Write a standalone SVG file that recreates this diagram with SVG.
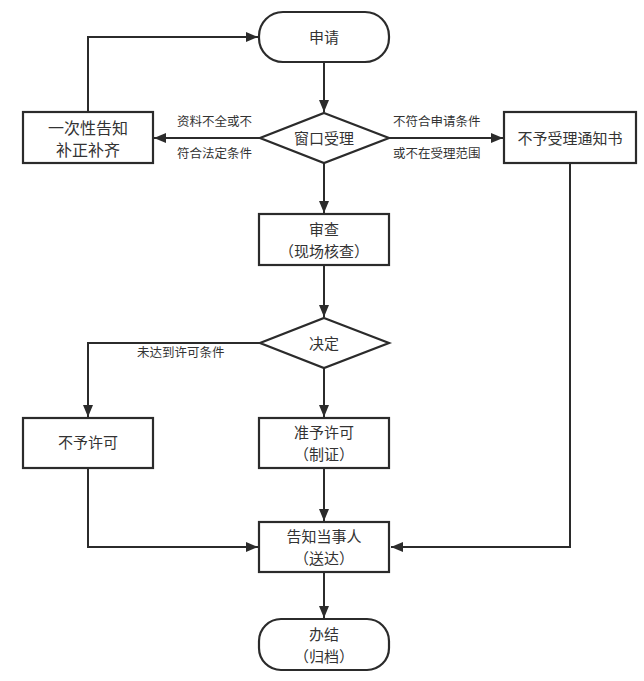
<svg xmlns="http://www.w3.org/2000/svg" width="644" height="681" viewBox="0 0 644 681">
<style>
.n{fill:#fff;stroke:#2b2b2b;stroke-width:2.2}
.t{font-family:"Noto Sans CJK SC","Noto Sans",sans-serif;font-size:15px;fill:#333;text-anchor:middle}
.l{font-family:"Noto Sans CJK SC","Noto Sans",sans-serif;font-size:12.5px;fill:#333}
.c{fill:none;stroke:#2b2b2b;stroke-width:2}
</style>
<defs>
<marker id="a" viewBox="0 0 12 10" refX="12" refY="5" markerWidth="12" markerHeight="10" markerUnits="userSpaceOnUse" orient="auto">
<path d="M0,0 L12,5 L0,10 Z" fill="#2b2b2b"/>
</marker>
</defs>
<rect width="644" height="681" fill="#fff"/>
<g id="connectors">
<path class="c" d="M324,62 V112" marker-end="url(#a)"/>
<path class="c" d="M88,112 V37 H258" marker-end="url(#a)"/>
<path class="c" d="M260,138 H154" marker-end="url(#a)"/>
<path class="c" d="M389,138 H503" marker-end="url(#a)"/>
<path class="c" d="M324,163 V213" marker-end="url(#a)"/>
<path class="c" d="M324,265 V317" marker-end="url(#a)"/>
<path class="c" d="M260,343 H88 V417" marker-end="url(#a)"/>
<path class="c" d="M324,368 V417" marker-end="url(#a)"/>
<path class="c" d="M324,468 V521" marker-end="url(#a)"/>
<path class="c" d="M88,468 V547 H258" marker-end="url(#a)"/>
<path class="c" d="M570,163 V547 H391" marker-end="url(#a)"/>
<path class="c" d="M324,572 V618" marker-end="url(#a)"/>
<text class="l" x="177" y="126">资料不全或不</text>
<text class="l" x="177" y="158">符合法定条件</text>
<text class="l" x="393" y="126">不符合申请条件</text>
<text class="l" x="393" y="158">或不在受理范围</text>
<text class="l" x="137" y="357">未达到许可条件</text>
</g>
<g id="apply"><rect class="n" x="259" y="12" width="130" height="50" rx="24"/><text class="t" x="324" y="43">申请</text></g>
<g id="window"><path class="n" d="M324,113 L389,138 L324,163 L260,138 Z"/><text class="t" x="324" y="144">窗口受理</text></g>
<g id="notify-once"><rect class="n" x="23" y="112" width="130" height="51"/><text class="t" x="88" y="134" style="font-size:16px">一次性告知</text><text class="t" x="88" y="156" style="font-size:16px">补正补齐</text></g>
<g id="reject-notice"><rect class="n" x="504" y="112" width="132" height="51"/><text class="t" x="570" y="144">不予受理通知书</text></g>
<g id="review"><rect class="n" x="259" y="214" width="130" height="51"/><text class="t" x="324" y="235">审查</text><text class="t" x="324" y="257">（现场核查）</text></g>
<g id="decide"><path class="n" d="M324,318 L389,343 L324,368 L260,343 Z"/><text class="t" x="324" y="349">决定</text></g>
<g id="deny"><rect class="n" x="23" y="418" width="130" height="50"/><text class="t" x="88" y="448">不予许可</text></g>
<g id="grant"><rect class="n" x="259" y="418" width="130" height="50"/><text class="t" x="324" y="438">准予许可</text><text class="t" x="324" y="460">（制证）</text></g>
<g id="inform"><rect class="n" x="259" y="522" width="130" height="50"/><text class="t" x="324" y="542">告知当事人</text><text class="t" x="324" y="564">（送达）</text></g>
<g id="finish"><rect class="n" x="259" y="619" width="130" height="51" rx="22"/><text class="t" x="324" y="640">办结</text><text class="t" x="324" y="662">（归档）</text></g>
</svg>
